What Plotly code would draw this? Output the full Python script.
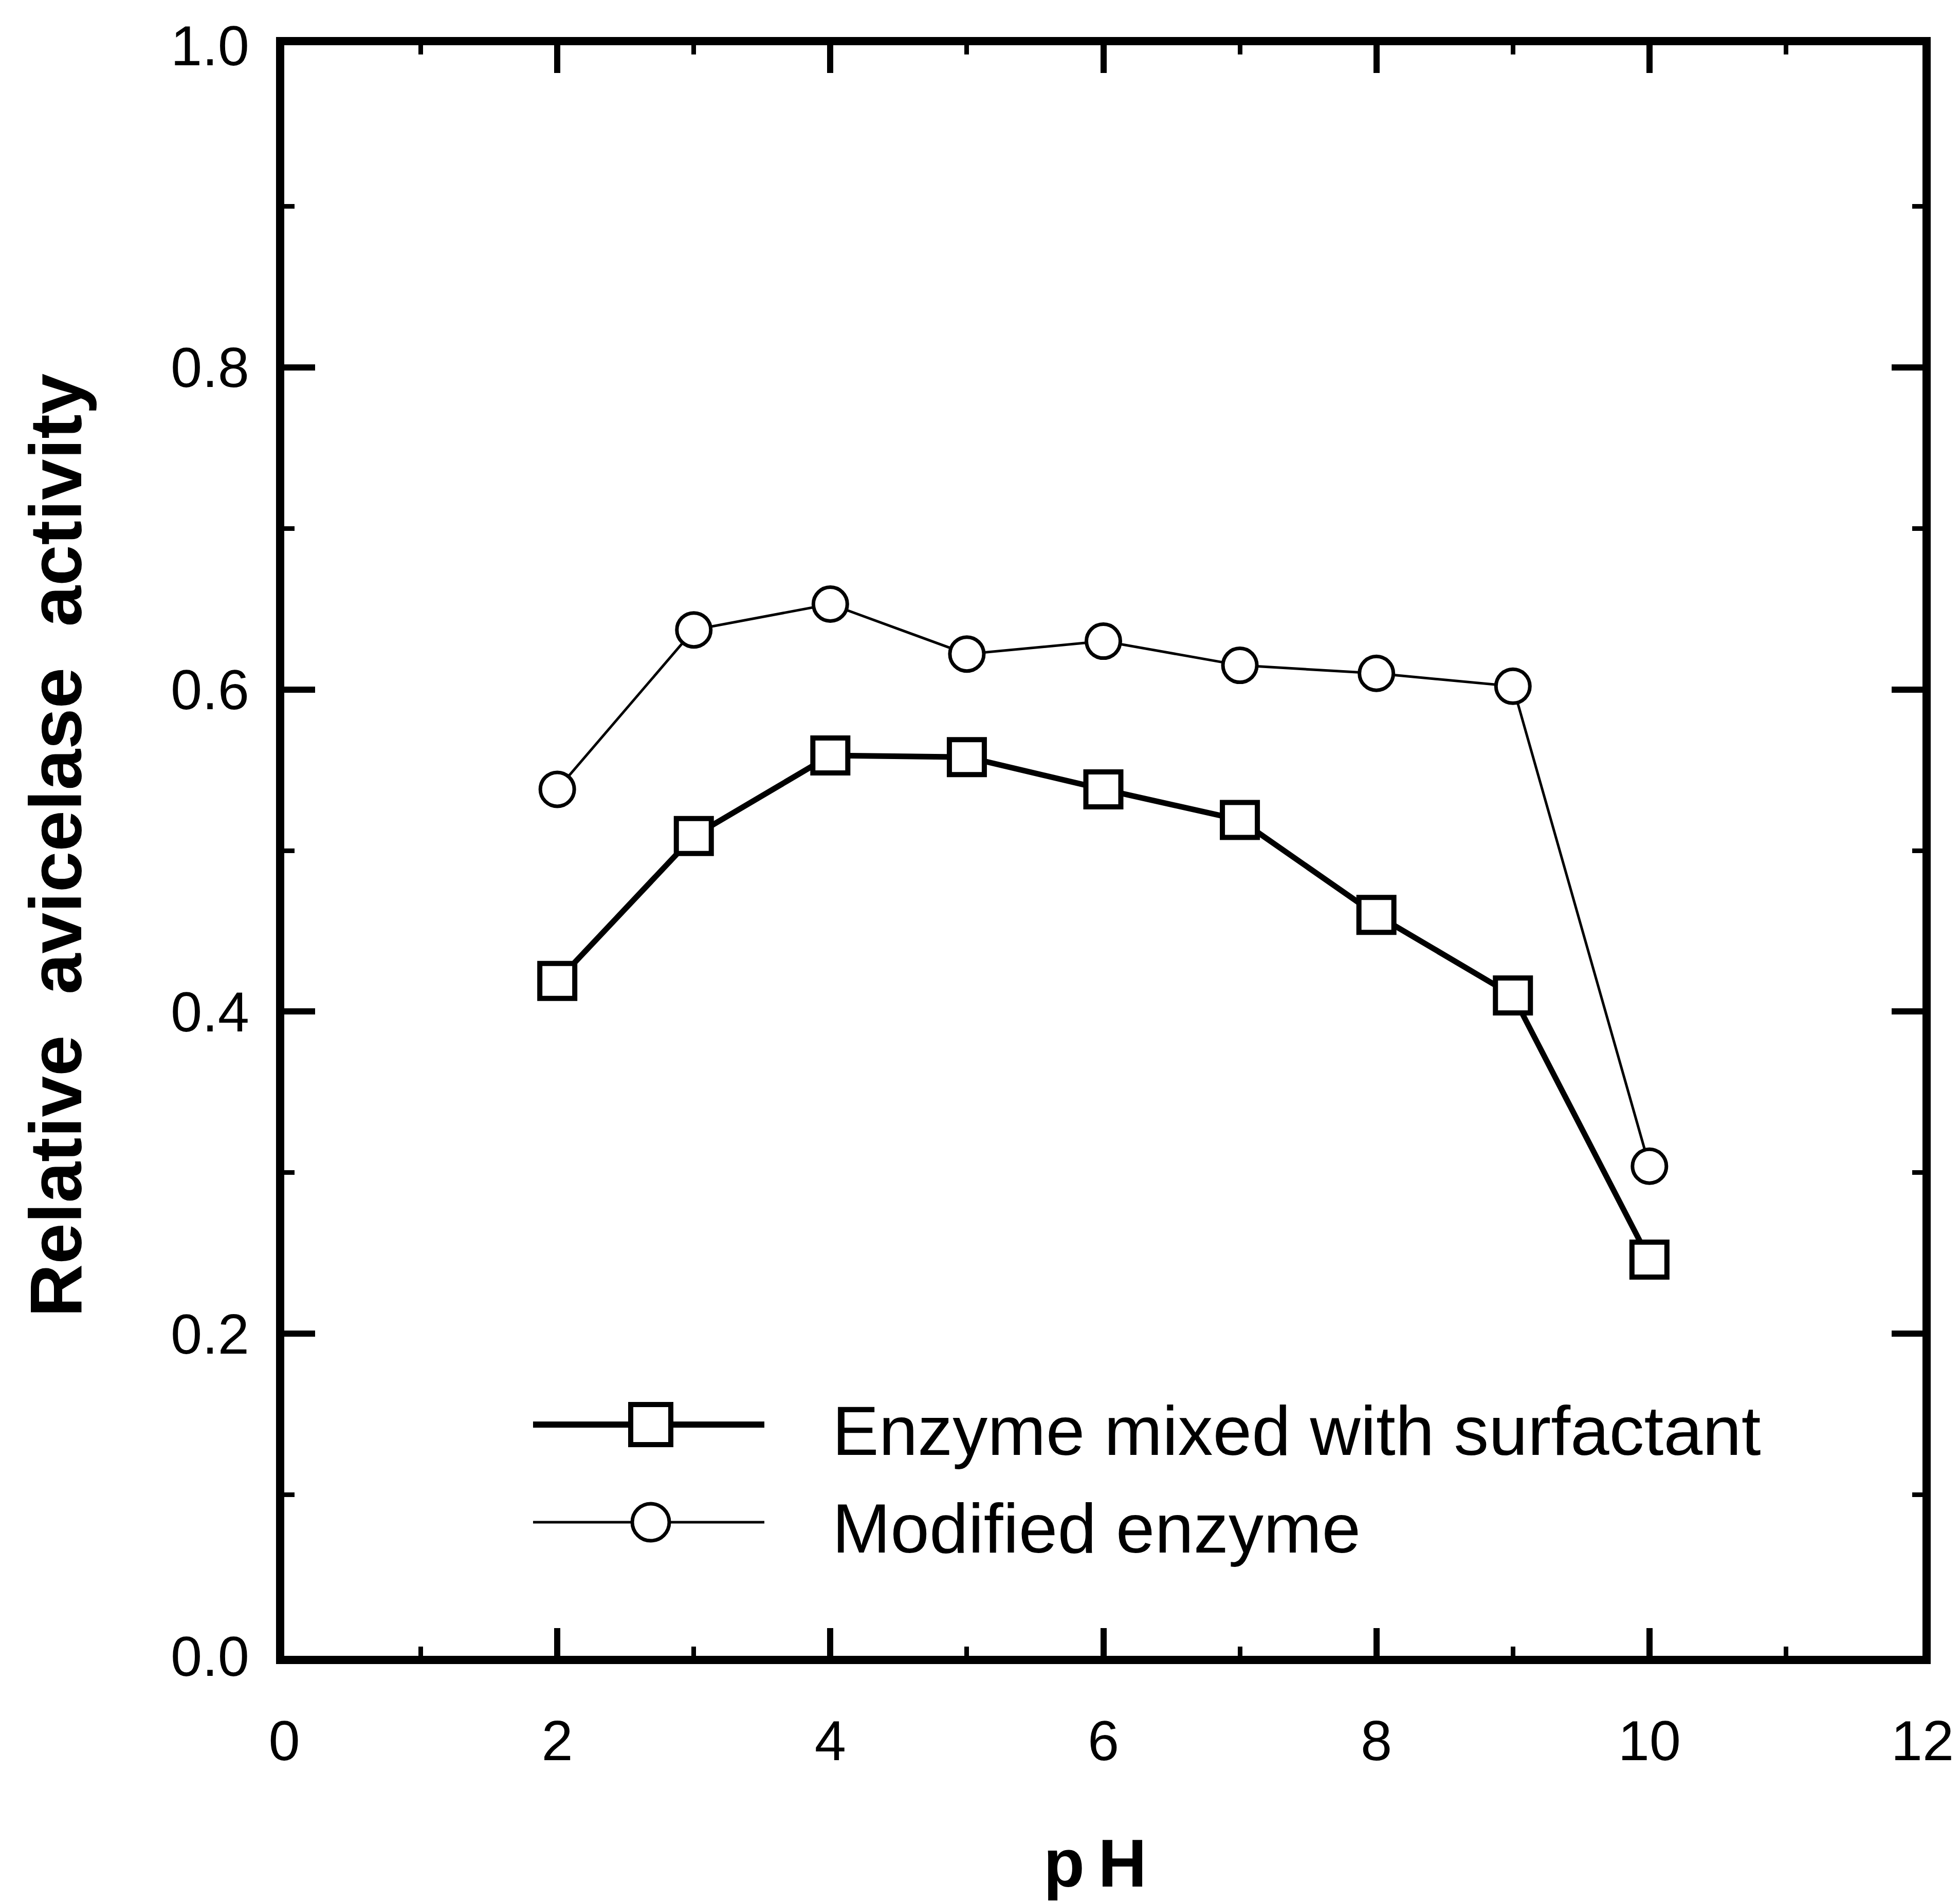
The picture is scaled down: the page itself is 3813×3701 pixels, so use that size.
import plotly.graph_objects as go

# pH values and relative avicelase activity for the two enzyme preparations
ph = [2, 3, 4, 5, 6, 7, 8, 9, 10]
mixed_with_surfactant = [0.419, 0.509, 0.559, 0.558, 0.538, 0.519, 0.460, 0.410, 0.246]
modified_enzyme = [0.538, 0.637, 0.653, 0.622, 0.630, 0.615, 0.610, 0.602, 0.304]

series_names = ["Enzyme mixed with surfactant", "Modified enzyme"]
x_tick_values = [0, 2, 4, 6, 8, 10, 12]
y_tick_values = [0.0, 0.2, 0.4, 0.6, 0.8, 1.0]

W, H = 3813, 3701
LEFT, RIGHT, TOP, BOTTOM = 553, 3740, 88, 3222
FONT = "Liberation Sans, Arial, Helvetica, sans-serif"


def px_x(p):
    return (p - LEFT) / (RIGHT - LEFT)


def px_y(p):
    return (BOTTOM - p) / (BOTTOM - TOP)


fig = go.Figure()

fig.add_trace(go.Scatter(
    x=ph, y=mixed_with_surfactant, mode="lines+markers", name=series_names[0],
    line=dict(color="black", width=11),
    marker=dict(symbol="square", size=68, color="white",
                line=dict(color="black", width=10)),
    showlegend=False,
))
fig.add_trace(go.Scatter(
    x=ph, y=modified_enzyme, mode="lines+markers", name=series_names[1],
    line=dict(color="black", width=5),
    marker=dict(symbol="circle", size=66, color="white",
                line=dict(color="black", width=7)),
    showlegend=False,
))

axis_common = dict(
    showline=True, linecolor="black", linewidth=16, mirror="ticks",
    ticks="inside", tickcolor="black", showgrid=False, zeroline=False,
    tickfont=dict(family=FONT, size=110, color="black"),
)

fig.update_xaxes(
    range=[0, 12], tickvals=x_tick_values, ticklen=54, tickwidth=12,
    minor=dict(dtick=1, ticks="inside", ticklen=18, tickwidth=9, tickcolor="black"),
    ticklabelstandoff=55,
    **axis_common,
)
fig.update_yaxes(
    range=[0, 1], tickvals=y_tick_values, tickformat=".1f", ticklen=60, tickwidth=12,
    minor=dict(dtick=0.1, ticks="inside", ticklen=20, tickwidth=9, tickcolor="black"),
    ticklabelstandoff=30,
    **axis_common,
)

# Hand-drawn key: sample line with marker, then label
key_line_x0, key_line_x1, key_marker_x = 1037, 1487, 1266
key_rows = [2772, 2962]
key_text_x = 1617
shapes = []
annotations = []
key_styles = [
    dict(line_w=12, kind="rect", half=39, border=10),
    dict(line_w=5, kind="circle", half=36, border=7),
]
for row_y, style, label in zip(key_rows, key_styles, series_names):
    shapes.append(dict(
        type="line", xref="paper", yref="paper",
        x0=px_x(key_line_x0), x1=px_x(key_line_x1), y0=px_y(row_y), y1=px_y(row_y),
        line=dict(color="black", width=style["line_w"]), layer="above",
    ))
    shapes.append(dict(
        type=style["kind"], xref="paper", yref="paper",
        xsizemode="pixel", ysizemode="pixel",
        xanchor=px_x(key_marker_x), yanchor=px_y(row_y),
        x0=-style["half"], x1=style["half"], y0=-style["half"], y1=style["half"],
        fillcolor="white", line=dict(color="black", width=style["border"]), layer="above",
    ))
    annotations.append(dict(
        text=label, xref="paper", yref="paper",
        x=px_x(key_text_x), y=px_y(row_y + 12), xanchor="left", yanchor="middle",
        showarrow=False, font=dict(family=FONT, size=136, color="black"),
    ))

# Axis titles
annotations.append(dict(
    text="<b>Relative\u00a0 avicelase\u00a0 activity</b>", textangle=-90,
    xref="paper", yref="paper", x=px_x(108), y=px_y(1645),
    xanchor="center", yanchor="middle", showarrow=False,
    font=dict(family=FONT, size=143, color="black"),
))
annotations.append(dict(
    text="<b>p\u2009H</b>", xref="paper", yref="paper", x=px_x(2130), y=px_y(3625),
    xanchor="center", yanchor="middle", showarrow=False,
    font=dict(family=FONT, size=131, color="black"),
))

fig.update_layout(
    width=W, height=H,
    margin=dict(l=LEFT, r=W - RIGHT, t=TOP, b=H - BOTTOM, pad=0),
    paper_bgcolor="white", plot_bgcolor="white",
    shapes=shapes, annotations=annotations, showlegend=False,
)

fig.write_html("out.html")
